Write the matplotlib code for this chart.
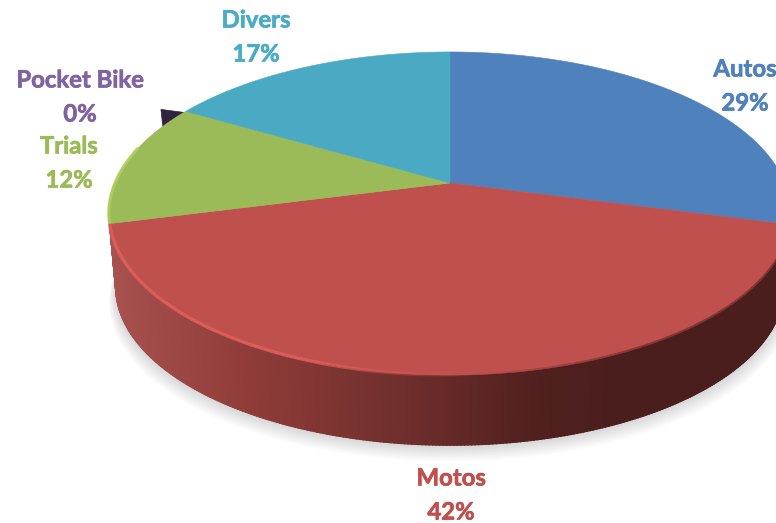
import numpy as np
import matplotlib
matplotlib.use("Agg")
import matplotlib.pyplot as plt
import matplotlib.patheffects as pe
from matplotlib.collections import LineCollection

categories = ["Autos", "Motos", "Trials", "Pocket Bike", "Divers"]
shares = [29.1, 41.9, 12.1, 0.3, 16.6]
colors = ["#4f81bd", "#c0504d", "#9bbb59", "#2f2340", "#4aa9c3"]
label_colors = ["#4f81bd", "#c0504d", "#9bbb59", "#8064a2", "#4bacc6"]
label_pos = [(745, 86), (451, 495), (69, 163), (80, 97), (256, 37)]

CX, CY, A, B, K = 450, 183, 335, 155.8, 0.189
DROP, SHRINK = 74, 0.98

plt.rcParams["font.family"] = ["Lato", "DejaVu Sans"]


def project(theta, r=1.0, drop=0.0, scale=1.0):
    u, v = r * np.cos(theta), r * np.sin(theta)
    w = 1 + K * v
    return CX + scale * A * u / w, CY + drop - scale * B * v / w


def lower(theta):
    return project(theta, drop=DROP, scale=SHRINK)


def wall_color(x):
    xs = [110, 250, 400, 540, 610, 800]
    rs = [[0.66, 0.32, 0.31], [0.56, 0.235, 0.22], [0.44, 0.185, 0.175],
          [0.315, 0.125, 0.12], [0.295, 0.118, 0.118], [0.295, 0.118, 0.118]]
    return [np.interp(x, xs, [c[i] for c in rs]) for i in range(3)]


fig = plt.figure(figsize=(7.76, 5.23), dpi=100)
ax = fig.add_axes([0, 0, 1, 1])
ax.set_xlim(0, 776)
ax.set_ylim(523, 0)
ax.axis("off")

total = sum(shares)
edges = np.pi / 2 - np.deg2rad(np.cumsum([0] + shares) / total * 360)
mids = (edges[:-1] + edges[1:]) / 2

# soft shadow under the wall
front = np.linspace(np.pi * 0.95, np.pi * 2.05, 200)
lx, ly = lower(front)
for i in range(1, 11):
    sx = CX + (lx - CX) * (1 + 0.002 * i)
    sy = ly + 1.6 * i
    ax.fill(np.r_[sx, CX], np.r_[sy, CY + 60], color="#000000", alpha=0.015, lw=0, zorder=1)

# side wall of the disc
angles = np.linspace(np.pi, 2 * np.pi, 361)
for a0, a1 in zip(angles[:-1], angles[1:]):
    tt = np.array([a0, a1 + 0.002])
    tx, ty = project(tt)
    bx, by = lower(tt)
    ax.fill(np.r_[tx, bx[::-1]], np.r_[ty, by[::-1]],
            color=wall_color(tx.mean()), lw=0.8, zorder=2)

# small exploded slice
i_pb = categories.index("Pocket Bike")
ax_, ay_ = project(mids[i_pb])
ax.fill([ax_, ax_ - 23, ax_ - 21], [ay_, ay_ - 3, ay_ + 15], color=colors[i_pb], lw=0.5, zorder=3)

# top faces (the tiny slice's top is hidden by its neighbour)
for i, name in enumerate(categories):
    if name == "Pocket Bike":
        continue
    end = edges[i + 2] if name == "Trials" else edges[i + 1]
    t = np.linspace(edges[i], end, 120)
    px, py = project(t)
    ax.fill(np.r_[CX, px], np.r_[CY, py], color=colors[i], lw=0.4, zorder=4)

# bevel along the rim of the two front slices
i_m = categories.index("Motos")
t = np.linspace(edges[i_m], edges[i_m + 1], 400)
px, py = project(t)
pts = np.column_stack([px, py]).reshape(-1, 1, 2)
segs = np.concatenate([pts[:-1], pts[1:]], axis=1)
seg_colors = []
for x in (px[:-1] + px[1:]) / 2:
    if x < 470:
        f = np.clip((470 - x) / 170, 0, 1)
        seg_colors.append((0.90, 0.38, 0.37, 0.85 * f))
    else:
        f = np.clip((x - 470) / 170, 0, 1)
        seg_colors.append((0.3, 0.12, 0.12, 0.55 * f))
ax.add_collection(LineCollection(segs, colors=seg_colors, linewidths=2.4, zorder=5))

i_t = categories.index("Trials")
t = np.linspace(edges[i_t], edges[i_t] - np.deg2rad(28), 80)
px, py = project(t)
ax.plot(px, py, color="#aed05e", lw=2.2, alpha=0.9, zorder=5, solid_capstyle="butt")

# labels
for name, value, col, (lx0, ly0) in zip(categories, shares, label_colors, label_pos):
    ax.text(lx0, ly0, f"{name}\n{value / total * 100:.0f}%", color=col, fontsize=17.2,
            fontweight="bold", ha="center", va="center", linespacing=1.58, zorder=6,
            path_effects=[pe.withStroke(linewidth=0.5, foreground=col)])

fig.savefig("out.png", dpi=100)
